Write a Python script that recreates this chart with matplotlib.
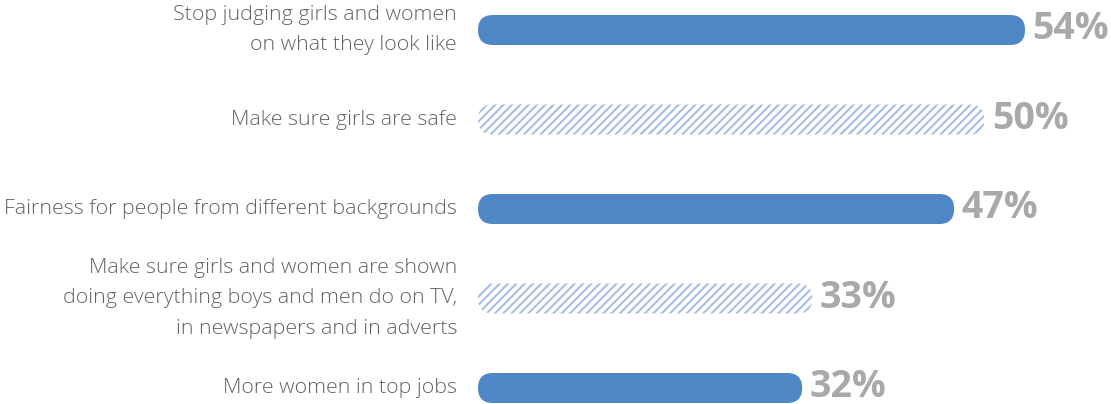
import matplotlib
matplotlib.use("Agg")
import matplotlib.pyplot as plt
from matplotlib.patches import FancyBboxPatch

categories = [
    "Stop judging girls and women\non what they look like",
    "Make sure girls are safe",
    "Fairness for people from different backgrounds",
    "Make sure girls and women are shown\ndoing everything boys and men do on TV,\nin newspapers and in adverts",
    "More women in top jobs",
]
values = [54, 50, 47, 33, 32]
hatched = [False, True, False, True, False]

SOLID = "#4f86c6"
STRIPE = "#a3bde6"
LABEL = "#636363"
VALUE = "#a9a9a9"

plt.rcParams["hatch.linewidth"] = 1.5

W, H, DPI = 1111, 404, 100
fig = plt.figure(figsize=(W / DPI, H / DPI), dpi=DPI)

left_px = 478
ax = fig.add_axes([left_px / W, 0, 1 - left_px / W, 1])
px_per_unit_x = 10.13
row_px = 89.5
top_px = 30
ax.set_xlim(0, (W - left_px) / px_per_unit_x)
ax.set_ylim((H - top_px) / row_px, -top_px / row_px)
ax.axis("off")

bar_h_px = 30
bar_h = bar_h_px / row_px
r_x = (bar_h_px / 2) / px_per_unit_x
aspect = (bar_h_px / 2 / row_px) / r_x

for i, (cat, v, h) in enumerate(zip(categories, values, hatched)):
    kw = dict(boxstyle=f"round,pad=0,rounding_size={r_x}",
              mutation_aspect=aspect)
    if h:
        patch = FancyBboxPatch((0, i - bar_h / 2), v, bar_h, facecolor="white",
                               edgecolor=STRIPE, linewidth=0, hatch="////", **kw)
    else:
        patch = FancyBboxPatch((0, i - bar_h / 2), v, bar_h, facecolor=SOLID,
                               edgecolor="none", linewidth=0, **kw)
    ax.add_patch(patch)
    ax.text(v + 0.75, i - 0.01, f"{v}%", ha="left", va="center",
            fontsize=27, fontweight="bold", color=VALUE, family="Open Sans")
    ax.annotate(cat, xy=(0, i), xytext=(-21, 0), textcoords="offset pixels",
                ha="right", va="center", multialignment="right",
                fontsize=15.4, fontweight="light", color=LABEL,
                family="Open Sans", linespacing=1.68, annotation_clip=False)

fig.savefig("out.png", dpi=DPI, facecolor="white")
